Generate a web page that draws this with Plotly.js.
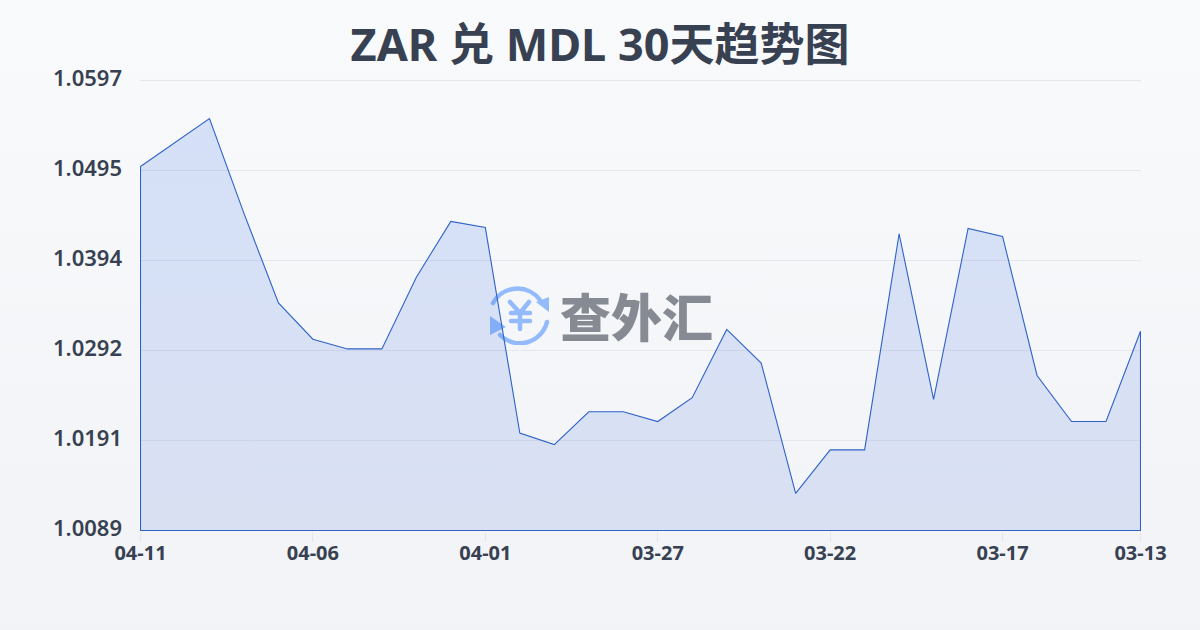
<!DOCTYPE html>
<html><head><meta charset="utf-8">
<script src="https://cdn.plot.ly/plotly-3.0.1.min.js"></script>
<style>
html,body{margin:0;padding:0;width:1200px;height:630px;overflow:hidden;background:linear-gradient(180deg,#f8fafc 0%,#f1f3f6 100%);}
#chart{width:1200px;height:630px;}
</style></head><body><div id="chart"></div>
<script>
const dates=["04-11","04-10","04-09","04-08","04-07","04-06","04-05","04-04","04-03","04-02","04-01","03-31","03-30","03-29","03-28","03-27","03-26","03-25","03-24","03-23","03-22","03-21","03-20","03-19","03-18","03-17","03-16","03-15","03-14","03-13"];
const rates=[1.0500,1.0527,1.0554,1.0447,1.0346,1.0305,1.0294,1.0294,1.0375,1.0438,1.0431,1.0199,1.0186,1.0223,1.0223,1.0212,1.0239,1.0316,1.0278,1.0131,1.0180,1.0180,1.0424,1.0237,1.0430,1.0421,1.0264,1.0212,1.0212,1.0314];
const xTicks=["04-11","04-06","04-01","03-27","03-22","03-17","03-13"];
const yTicks=[1.0089,1.01906,1.02922,1.03938,1.04954,1.0597];
const yMin=1.0089;
const yRange=[1.00884356,1.05987];
const xRange=[-0.0145,29.0145];
const titleText="ZAR 兑 MDL 30天趋势图";
const brandText="查外汇";

const ink="#374151";
const outlineX=dates.concat([dates[dates.length-1],dates[0],dates[0]]);
const outlineY=rates.concat([yMin,yMin,rates[0]]);
const icon='<svg xmlns="http://www.w3.org/2000/svg" viewBox="0 0 60 60"><g fill="none" stroke="#93bbfb" stroke-width="4.5" stroke-linecap="round" stroke-linejoin="round"><path d="M3 18A28 28 0 0 1 50 15"/><path d="M57 37A28 28 0 0 1 10 50"/><path d="M20 17L30 28L39 17M30 28V44M21 28H40M21 36H40"/></g><path d="M46 17L59 12V27Z" fill="#93bbfb"/><path d="M0 31V50L16 42Z" fill="#93bbfb"/></svg>';

Plotly.newPlot('chart',[{
  type:'scatter',mode:'lines',x:outlineX,y:outlineY,fill:'toself',cliponaxis:false,
  fillgradient:{type:'vertical',colorscale:[[0,'rgba(50,90,210,0.13)'],[1,'rgba(37,99,235,0.16)']]},
  line:{color:'#2f62c9',width:1.1,shape:'linear'},hoverinfo:'skip'
}],{
  width:1200,height:630,paper_bgcolor:'rgba(0,0,0,0)',plot_bgcolor:'rgba(0,0,0,0)',
  margin:{l:140,r:59,t:79,b:99},showlegend:false,
  font:{family:'"Noto Sans","Noto Sans CJK SC",sans-serif',color:ink},
  title:{text:titleText,x:0.5,xanchor:'center',y:0.928,yanchor:'middle',font:{family:'"Noto Sans","Noto Sans CJK SC",sans-serif',size:45,weight:700,color:ink}},
  xaxis:{type:'category',categoryorder:'array',categoryarray:dates,range:xRange,tickmode:'array',tickvals:xTicks,ticktext:xTicks,
    showgrid:false,zeroline:false,showline:false,ticks:'outside',ticklen:10,tickwidth:1,tickcolor:'#e5e7eb',
    tickfont:{size:20,weight:700,color:ink},tickangle:0,ticklabelstandoff:-6},
  yaxis:{type:'linear',range:yRange,tickmode:'array',tickvals:yTicks,ticktext:yTicks.map(v=>v.toFixed(4)),
    showgrid:true,gridcolor:'#e5e7eb',gridwidth:1,zeroline:false,showline:false,ticks:'',ticklabelstandoff:17,ticklabelshift:-2,
    tickfont:{size:22,weight:600,color:ink}},
  images:[{source:'data:image/svg+xml;utf8,'+encodeURIComponent(icon),xref:'paper',yref:'paper',x:(490-140)/1001,y:1-(285-79)/452,sizex:60/1001,sizey:60/452,sizing:'stretch',xanchor:'left',yanchor:'top',layer:'below'}],
  annotations:[{text:brandText,xref:'paper',yref:'paper',x:(636-140)/1001,y:1-(315-79)/452,xanchor:'center',yanchor:'middle',showarrow:false,font:{family:'"Noto Sans CJK SC",sans-serif',size:51,weight:900,color:'#868a93'}}]
},{displayModeBar:false,staticPlot:true});
</script></body></html>
